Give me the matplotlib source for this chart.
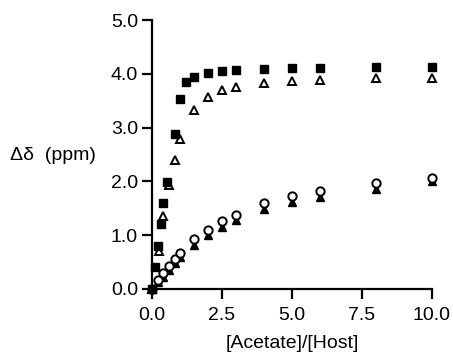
import numpy as np
from matplotlib import pyplot as plt

plt.rcParams['font.family'] = ['Liberation Sans', 'DejaVu Sans']

# filled squares
sq_x = [0, 0.1, 0.23, 0.32, 0.4, 0.52, 0.82, 1.0, 1.2, 1.5, 2.0, 2.5, 3.0, 4.0, 5.0, 6.0, 8.0, 10.0]
sq_y = [0, 0.4, 0.8, 1.2, 1.6, 1.99, 2.88, 3.54, 3.84, 3.95, 4.02, 4.06, 4.07, 4.09, 4.1, 4.1, 4.12, 4.12]
# open triangles
ot_x = [0, 0.26, 0.4, 0.62, 0.82, 1.0, 1.5, 2.0, 2.5, 3.0, 4.0, 5.0, 6.0, 8.0, 10.0]
ot_y = [0, 0.71, 1.35, 1.93, 2.39, 2.78, 3.33, 3.56, 3.69, 3.75, 3.83, 3.87, 3.89, 3.92, 3.93]
# open circles
oc_x = [0, 0.23, 0.4, 0.62, 0.82, 1.0, 1.5, 2.0, 2.5, 3.0, 4.0, 5.0, 6.0, 8.0, 10.0]
oc_y = [0, 0.17, 0.3, 0.43, 0.56, 0.67, 0.92, 1.1, 1.26, 1.38, 1.59, 1.72, 1.82, 1.97, 2.07]
# filled triangles
ft_x = [0, 0.23, 0.4, 0.62, 0.82, 1.0, 1.5, 2.0, 2.5, 3.0, 4.0, 5.0, 6.0, 8.0, 10.0]
ft_y = [0, 0.12, 0.23, 0.35, 0.48, 0.6, 0.81, 1.0, 1.15, 1.28, 1.49, 1.62, 1.71, 1.86, 2.0]

fig = plt.figure(figsize=(4.53, 3.58), dpi=100)
ax = fig.add_axes([0.3355, 0.193, 0.618, 0.751])

ax.plot(ft_x, ft_y, '^', color='black', ms=6, clip_on=False, zorder=3)
ax.plot(oc_x, oc_y, 'o', mfc='white', mec='black', mew=1.4, ms=6, clip_on=False, zorder=4)
ax.plot(ot_x, ot_y, '^', mfc='white', mec='black', mew=1.4, ms=6, clip_on=False, zorder=3)
ax.plot(sq_x, sq_y, 's', color='black', ms=6, clip_on=False, zorder=4)

ax.set_xlim(0, 10)
ax.set_ylim(0, 5)
ax.set_xticks([0, 2.5, 5, 7.5, 10])
ax.set_xticklabels(['0.0', '2.5', '5.0', '7.5', '10.0'])
ax.set_yticks([0, 1, 2, 3, 4, 5])
ax.set_yticklabels(['0.0', '1.0', '2.0', '3.0', '4.0', '5.0'])
for s in ['top', 'right']:
    ax.spines[s].set_visible(False)
for s in ['left', 'bottom']:
    ax.spines[s].set_linewidth(1.6)
ax.tick_params(direction='out', width=1.6, labelsize=14)
ax.tick_params(axis='x', length=7, pad=6)
ax.tick_params(axis='y', length=7, pad=3)
ax.set_xlabel('[Acetate]/[Host]', fontsize=14, labelpad=8)
fig.text(0.022, 0.567, 'Δδ  (ppm)', fontsize=14, va='center', ha='left')

fig.savefig('out.png', dpi=100)
